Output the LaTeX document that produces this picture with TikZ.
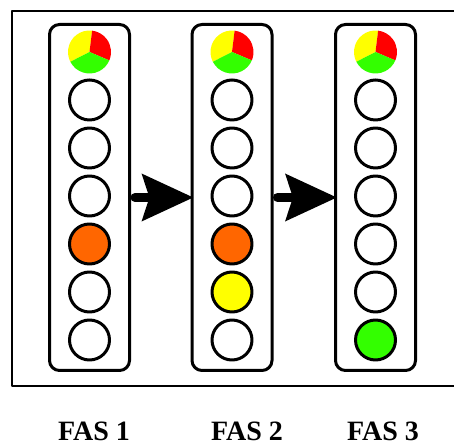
\documentclass[tikz,border=0pt]{standalone}
\usepackage{fontspec}
\setmainfont{Liberation Serif}
\usetikzlibrary{arrows.meta}
\definecolor{lamporange}{RGB}{255,102,0}
\definecolor{lampyellow}{RGB}{255,255,0}
\definecolor{lampgreen}{RGB}{51,255,0}
\definecolor{lampred}{RGB}{255,0,0}
\tikzset{
  lampbox/.style={draw,line width=3pt,rounded corners=10pt,minimum width=80pt,minimum height=346pt,inner sep=0pt},
  lamp/.style={draw,line width=3pt,circle,minimum size=40pt,inner sep=0pt},
  pielamp/.style={circle,minimum size=43pt,inner sep=0pt},
  flow/.style={line width=9pt,shorten <=4pt,shorten >=-3pt,-{Stealth[length=51pt,width=46pt,inset=7pt]}},
  caption/.style={anchor=base,inner sep=0pt,font=\bfseries\fontsize{28}{30}\selectfont},
}
\begin{document}
\begin{tikzpicture}[x=1pt,y=1pt,line cap=round,line join=round]
  \useasboundingbox (0,0) rectangle (454,446);
  \draw[line width=1.5pt] (12,435) rectangle (470,60);
  % the three signal heads
  \foreach \c/\x/\cols in {1/89.5/{white,white,white,lamporange,white,white},
                           2/232/{white,white,white,lamporange,lampyellow,white},
                           3/375.5/{white,white,white,white,white,lampgreen}}{
    \node[lampbox] (fas\c) at (\x,248.5) {};
    \node[pielamp] (lamp\c-1) at (\x,394) {};
    \fill[lampyellow] (lamp\c-1.center) -- ++(83:21.5) arc[start angle=83,end angle=207,radius=21.5] -- cycle;
    \fill[lampred] (lamp\c-1.center) -- ++(-23:21.5) arc[start angle=-23,end angle=83,radius=21.5] -- cycle;
    \fill[lampgreen] (lamp\c-1.center) -- ++(207:21.5) arc[start angle=207,end angle=337,radius=21.5] -- cycle;
    \foreach \col [count=\i from 2] in \cols
      \node[lamp,fill=\col] (lamp\c-\i) at (\x,394-48*\i+48) {};
  }
  \draw[flow] (fas1.east) -- (fas2.west);
  \draw[flow] (fas2.east) -- (fas3.west);
  % labels
  \node[caption] (cap1) at (94,5.5) {FAS 1};
  \node[caption] (cap2) at (247,5.5) {FAS 2};
  \node[caption] (cap3) at (383,5.5) {FAS 3};
\end{tikzpicture}
\end{document}
